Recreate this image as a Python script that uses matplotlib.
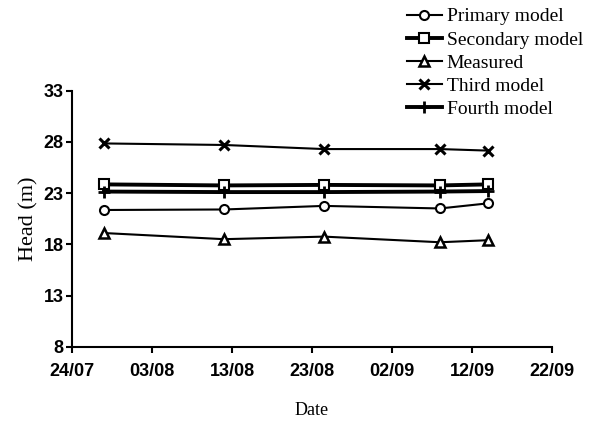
import matplotlib
matplotlib.use("Agg")
import matplotlib.pyplot as plt
import matplotlib.dates as mdates
import datetime as dt

dates = ["2000-07-28", "2000-08-12", "2000-08-24 12:00", "2000-09-08", "2000-09-14"]
primary = [21.35, 21.4, 21.75, 21.5, 22.0]
secondary = [23.85, 23.75, 23.8, 23.75, 23.85]
measured = [19.1, 18.5, 18.75, 18.2, 18.4]
third = [27.85, 27.7, 27.3, 27.3, 27.15]
fourth = [23.15, 23.1, 23.1, 23.15, 23.2]
xticks = ["2000-07-24", "2000-08-03", "2000-08-13", "2000-08-23", "2000-09-02", "2000-09-12", "2000-09-22"]
yticks = [8, 13, 18, 23, 28, 33]

plt.rcParams['font.family'] = ['Liberation Serif', 'DejaVu Serif']
x = [dt.datetime.fromisoformat(d) for d in dates]
xt = [dt.datetime.fromisoformat(d) for d in xticks]

fig = plt.figure(figsize=(5.93, 4.22), dpi=100)
ax = fig.add_axes([72/593, 1-346.7/422, 480/593, 256/422])

ax.plot(x, primary, color='black', lw=1.5, marker='o', ms=6.5, mfc='white', mew=1.5, label='Primary model')
ax.plot(x, secondary, color='black', lw=2.8, marker='s', ms=7, mfc='white', mew=1.5, label='Secondary model')
ax.plot(x, measured, color='black', lw=1.5, marker='^', ms=7, mfc='white', mew=1.8, label='Measured')
ax.plot(x, third, color='black', lw=1.5, marker='x', ms=7, mew=2.2, label='Third model')
ax.plot(x, fourth, color='black', lw=2.8, marker='+', ms=8, mew=2.0, label='Fourth model')

ax.set_xlim(xt[0], xt[-1])
ax.set_ylim(8, 33)
ax.set_xticks(xt)
ax.xaxis.set_major_formatter(mdates.DateFormatter('%d/%m'))
ax.set_yticks(yticks)
for s in ['top', 'right']:
    ax.spines[s].set_visible(False)
for s in ['left', 'bottom']:
    ax.spines[s].set_linewidth(1.5)
ax.tick_params(width=1.5, length=4.5)
ax.tick_params(axis='x', pad=7)
ax.tick_params(axis='y', pad=1.5)
for lab in ax.get_xticklabels() + ax.get_yticklabels():
    lab.set_family(['Liberation Sans', 'DejaVu Sans'])
    lab.set_fontweight('bold')
    lab.set_fontsize(13)
ax.set_xlabel('Date', fontsize=13, labelpad=16)
ax.set_ylabel('Head (m)', fontsize=16, labelpad=4)

fig.legend(loc='upper left', bbox_to_anchor=(402/593, 1 - 3/422), frameon=False, fontsize=14,
           handlelength=1.8, handletextpad=0.25, labelspacing=0.28, borderaxespad=0.0,
           borderpad=0.25)

fig.savefig('out.png', dpi=100)
